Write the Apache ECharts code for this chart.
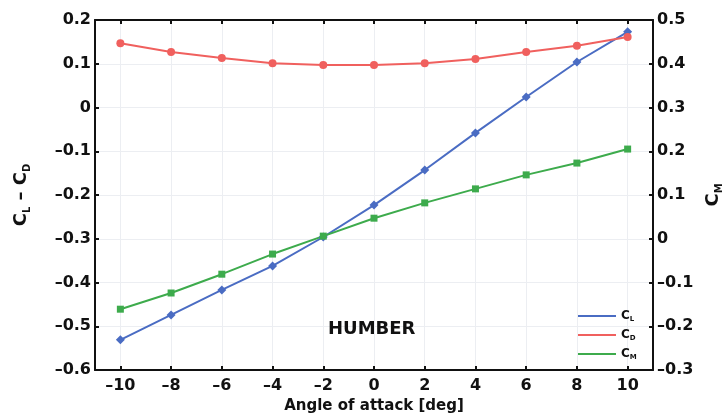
<!DOCTYPE html>
<html>
<head>
<meta charset="utf-8">
<script src="https://cdn.jsdelivr.net/npm/echarts@6/dist/echarts.min.js"></script>
<style>
  html, body { margin: 0; padding: 0; background: #fff; }
  #main { width: 727px; height: 418px; }
</style>
</head>
<body>
<div id="main"></div>
<script>
// angle of attack, deg
var angles = [-10, -8, -6, -4, -2, 0, 2, 4, 6, 8, 10];
// lift coefficient (left axis)
var cl = [-0.531, -0.474, -0.417, -0.362, -0.296, -0.223, -0.143, -0.058, 0.024, 0.104, 0.173];
// drag coefficient (left axis)
var cd = [0.147, 0.127, 0.113, 0.101, 0.097, 0.097, 0.101, 0.111, 0.127, 0.141, 0.161];
// moment coefficient (right axis)
var cm = [-0.161, -0.124, -0.081, -0.035, 0.006, 0.047, 0.082, 0.114, 0.146, 0.173, 0.205];

var FONT = '"DejaVu Sans", sans-serif';
var blue = '#4a6cc3', red = '#f0605e', green = '#3dab4c';

function pairs(ys) {
  return angles.map(function (a, i) { return [a, ys[i]]; });
}
function fmt(v) {
  if (Math.abs(v) < 1e-9) return '0';
  return (v < 0 ? '\u2013' : '') + Math.abs(v).toFixed(1);
}
function fmtX(v) {
  return (v < 0 ? '\u2013' : '') + Math.abs(v);
}

var subRich = {
  m: { fontFamily: FONT, fontWeight: 'bold', fontSize: 18, color: '#111', lineHeight: 22 },
  s: { fontFamily: FONT, fontWeight: 'bold', fontSize: 10, color: '#111', verticalAlign: 'bottom', lineHeight: 12, padding: [10, 0, 0, 0] }
};
var legRich = {
  m: { fontFamily: FONT, fontWeight: 'bold', fontSize: 12, color: '#111', lineHeight: 14 },
  s: { fontFamily: FONT, fontWeight: 'bold', fontSize: 7, color: '#111', verticalAlign: 'bottom', padding: [6, 0, 0, 0] }
};
var legNames = { CL: '{m|C}{s|L}', CD: '{m|C}{s|D}', CM: '{m|C}{s|M}' };

var axisLine = { show: true, onZero: false, lineStyle: { color: '#111', width: 2 } };
var tick = { show: true, inside: true, length: 4, lineStyle: { color: '#111', width: 2 } };
var grid = { show: true, lineStyle: { color: '#eceef2', width: 1 } };
var lbl = { fontFamily: FONT, fontWeight: 'bold', fontSize: 16, color: '#111' };

var myChart = echarts.init(document.getElementById('main'));
var option = {
  backgroundColor: '#fff',
  animation: false,
  grid: { left: 95, right: 74, top: 20, bottom: 48, containLabel: false, outerBoundsMode: 'none' },
  legend: {
    orient: 'vertical',
    left: 573,
    top: 305,
    itemWidth: 38,
    itemHeight: 2,
    itemGap: 6,
    icon: 'rect',
    data: ['CL', 'CD', 'CM'],
    formatter: function (n) { return legNames[n]; },
    textStyle: { rich: legRich }
  },
  graphic: [{
    type: 'text', left: 328, top: 320, z: 100,
    style: { text: 'HUMBER', fontFamily: FONT, fontWeight: 'bold', fontSize: 18, fill: '#111' }
  }],
  xAxis: [{
    type: 'value', min: -11, max: 11,
    axisLine: axisLine,
    axisTick: Object.assign({ customValues: angles }, tick),
    axisLabel: Object.assign({ customValues: angles, margin: 8, formatter: fmtX }, lbl),
    splitLine: grid,
    name: 'Angle of attack [deg]',
    nameLocation: 'middle',
    nameGap: 26,
    nameTextStyle: { fontFamily: FONT, fontWeight: 'bold', fontSize: 15, color: '#111' }
  }, {
    type: 'value', min: -11, max: 11, position: 'top',
    axisLine: axisLine,
    axisTick: Object.assign({ customValues: angles }, tick),
    axisLabel: { show: false },
    splitLine: { show: false }
  }],
  yAxis: [{
    type: 'value', min: -0.6, max: 0.2, interval: 0.1, position: 'left',
    axisLine: axisLine, axisTick: tick,
    axisLabel: Object.assign({ margin: 4, formatter: fmt }, lbl),
    splitLine: grid,
    name: '{m|C}{s|L}{m| \u2013 C}{s|D}',
    nameLocation: 'middle', nameRotate: 90, nameGap: 63,
    nameTextStyle: { rich: subRich }
  }, {
    type: 'value', min: -0.3, max: 0.5, interval: 0.1, position: 'right',
    axisLine: axisLine, axisTick: tick,
    axisLabel: Object.assign({ margin: 4, formatter: fmt }, lbl),
    splitLine: { show: false },
    name: '{m|C}{s|M}',
    nameLocation: 'middle', nameRotate: 90, nameGap: 48,
    nameTextStyle: { rich: subRich }
  }],
  series: [{
    name: 'CL', type: 'line', data: pairs(cl), yAxisIndex: 0,
    symbol: 'diamond', symbolSize: 9,
    lineStyle: { color: blue, width: 2 }, itemStyle: { color: blue }
  }, {
    name: 'CD', type: 'line', data: pairs(cd), yAxisIndex: 0,
    symbol: 'circle', symbolSize: 8,
    lineStyle: { color: red, width: 2 }, itemStyle: { color: red }
  }, {
    name: 'CM', type: 'line', data: pairs(cm), yAxisIndex: 1,
    symbol: 'rect', symbolSize: 7,
    lineStyle: { color: green, width: 2 }, itemStyle: { color: green }
  }]
};
myChart.setOption(option);
</script>
</body>
</html>
